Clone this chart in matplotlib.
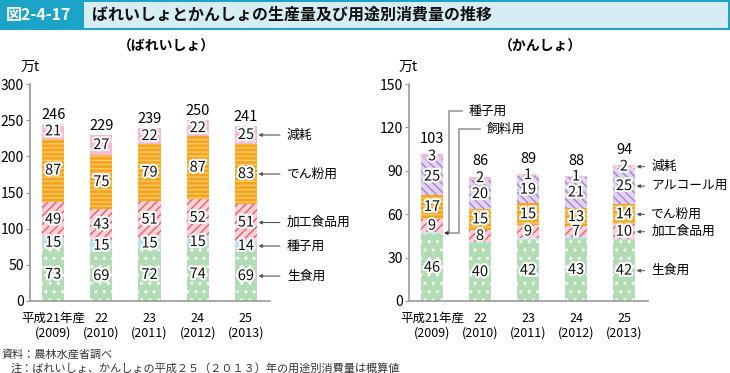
import matplotlib
matplotlib.use("Agg")
import matplotlib.pyplot as plt
import matplotlib.patheffects as pe
from matplotlib.patches import Rectangle
import numpy as np

plt.rcParams['font.family'] = ['Noto Sans CJK JP', 'DejaVu Sans']
plt.rcParams['hatch.linewidth'] = 1.0

# data (万t)
years = ['平成21年産\n(2009)', '22\n(2010)', '23\n(2011)', '24\n(2012)', '25\n(2013)']

# ばれいしょ
b_raw = [73, 69, 72, 74, 69]        # 生食用
b_seed = [15, 15, 15, 15, 14]       # 種子用
b_proc = [49, 43, 51, 52, 51]       # 加工食品用
b_starch = [87, 75, 79, 87, 83]     # でん粉用
b_loss = [21, 27, 22, 22, 25]       # 減耗
b_total = [246, 229, 239, 250, 241]

# かんしょ
k_raw = [46, 40, 42, 43, 42]        # 生食用
k_seed = [1, 0.6, 1, 1, 0.6]        # 種子用
k_feed = [0.5, 0.3, 0.5, 0.5, 0.3]  # 飼料用
k_proc = [9, 8, 9, 7, 10]           # 加工食品用
k_starch = [17, 15, 15, 13, 14]     # でん粉用
k_alc = [25, 20, 19, 21, 25]        # アルコール用
k_loss = [3, 2, 1, 1, 2]            # 減耗
k_total = [103, 86, 89, 88, 94]

W, H = 730, 373
fig = plt.figure(figsize=(W / 100, H / 100), dpi=100)

def fx(px):
    return px / W

def fy(py):
    return 1 - py / H

# title band
fig.patches.append(Rectangle((0, fy(30)), fx(730), 30 / H, transform=fig.transFigure,
                             facecolor='#1ca3c8', edgecolor='none'))
fig.patches.append(Rectangle((fx(84), fy(28)), fx(644), 26 / H, transform=fig.transFigure,
                             facecolor='#d6edf4', edgecolor='none'))
fig.text(fx(6), fy(15), '図2-4-17', color='white', fontsize=11.5, fontweight='bold', va='center')
fig.text(fx(92), fy(15), 'ばれいしょとかんしょの生産量及び用途別消費量の推移', color='#111111',
         fontsize=11.5, fontweight='bold', va='center')

styles = {
    'raw': dict(facecolor='#b2dcb4', edgecolor='white', hatch='..'),
    'seed': dict(facecolor='#b9e1ec', edgecolor='#b9e1ec', hatch=None),
    'feed': dict(facecolor='#d8ecf0', edgecolor='#d8ecf0', hatch=None),
    'proc': dict(facecolor='#fcd3d6', edgecolor='#ef5b6b', hatch='////'),
    'starch': dict(facecolor='#f5a41c', edgecolor='#fbcb6e', hatch='----'),
    'alc': dict(facecolor='#e2d1f0', edgecolor='#a783cc', hatch='\\\\\\\\'),
    'loss': dict(facecolor='#f5b9d4', edgecolor='#fbe0ec', hatch='..'),
}

stroke = [pe.withStroke(linewidth=3, foreground='white')]
x = np.arange(len(years))
bw = 0.46


def setup_axes(ax, ymax, step):
    ax.set_xlim(-0.48, 4.5)
    ax.set_ylim(0, ymax)
    ax.set_yticks(np.arange(0, ymax + 1, step))
    for s in ['top', 'right']:
        ax.spines[s].set_visible(False)
    for s in ['left', 'bottom']:
        ax.spines[s].set_color('#999999')
        ax.spines[s].set_linewidth(1.2)
    ax.tick_params(axis='y', length=3, color='#999999', labelsize=10, pad=1.5)
    ax.tick_params(axis='x', length=0, labelsize=9, pad=8)
    ax.set_xticks(x)
    ax.set_xticklabels(years, linespacing=1.15)


def stack(ax, layers, labelled):
    bottom = np.zeros(len(x))
    mids = {}
    for key, vals in layers:
        vals = np.array(vals, dtype=float)
        ax.bar(x, vals, bw, bottom=bottom, linewidth=0, **styles[key])
        mids[key] = bottom + vals / 2
        if key in labelled:
            for i, v in enumerate(vals):
                ax.text(x[i], bottom[i] + v / 2, '%d' % v, ha='center', va='center',
                        fontsize=10.5, color='#111111', path_effects=stroke)
        bottom = bottom + vals
    return bottom, mids


def totals(ax, top, labels, off):
    for i in range(len(x)):
        ax.annotate(str(labels[i]), xy=(x[i], top[i]), xytext=(0, off),
                    textcoords='offset points', ha='center', va='bottom', fontsize=10.5)


def arrow(ax, label, ytip, xtext):
    ax.annotate(label, xy=(4 + bw / 2 + 0.03, ytip), xytext=(xtext, ytip),
                textcoords='data', ha='left', va='center', fontsize=9.2,
                annotation_clip=False,
                arrowprops=dict(arrowstyle='-|>', color='#555555', lw=0.8,
                                mutation_scale=5, shrinkA=3, shrinkB=0))


# ---- ばれいしょ
ax1 = fig.add_axes([fx(30), fy(301), fx(240), 217 / H])
setup_axes(ax1, 300, 50)
layers = [('raw', b_raw), ('seed', b_seed), ('proc', b_proc), ('starch', b_starch), ('loss', b_loss)]
top, mids = stack(ax1, layers, ['raw', 'seed', 'proc', 'starch', 'loss'])
totals(ax1, top, b_total, 1.5)
names = {'loss': '減耗', 'starch': 'でん粉用', 'proc': '加工食品用', 'seed': '種子用', 'raw': '生食用'}
for k in ['loss', 'starch', 'proc', 'seed', 'raw']:
    arrow(ax1, names[k], mids[k][4], 4.85)
fig.text(fx(166), fy(47), '（ばれいしょ）', ha='center', va='center', fontsize=10, fontweight='bold')
fig.text(fx(21), fy(67), '万t', ha='left', va='center', fontsize=10)

# ---- かんしょ
ax2 = fig.add_axes([fx(409), fy(301), fx(239), 217 / H])
setup_axes(ax2, 150, 30)
layers = [('raw', k_raw), ('seed', k_seed), ('feed', k_feed), ('proc', k_proc),
          ('starch', k_starch), ('alc', k_alc), ('loss', k_loss)]
top, mids = stack(ax2, layers, ['raw', 'proc', 'starch', 'alc', 'loss'])
totals(ax2, top, k_total, 6)
names = {'loss': '減耗', 'alc': 'アルコール用', 'starch': 'でん粉用', 'proc': '加工食品用', 'raw': '生食用'}
for k in ['loss', 'alc', 'starch', 'proc', 'raw']:
    arrow(ax2, names[k], mids[k][4], 4.57)

# 種子用・飼料用 leader lines to the first bar
ytip = k_raw[0] + k_seed[0]
for lab, xv, yv, xend in [('種子用', 0.35, 131, 0.62), ('飼料用', 0.56, 119, 0.99)]:
    ax2.plot([xend, xv, xv, bw / 2 + 0.08], [yv, yv, ytip, ytip], color='#999999',
             lw=1.2, clip_on=False)
    ax2.text(xend + 0.14, yv, lab, ha='left', va='center', fontsize=9.2)
ax2.annotate('', xy=(bw / 2 + 0.02, ytip), xytext=(bw / 2 + 0.1, ytip),
             arrowprops=dict(arrowstyle='-|>', color='#333333', lw=0.8, mutation_scale=5,
                             shrinkA=0, shrinkB=0), annotation_clip=False)
fig.text(fx(540), fy(47), '（かんしょ）', ha='center', va='center', fontsize=10, fontweight='bold')
fig.text(fx(399), fy(67), '万t', ha='left', va='center', fontsize=10)

# notes
fig.text(fx(1), fy(354), '資料：農林水産省調べ', ha='left', va='center', fontsize=8, color='#333333')
fig.text(fx(11), fy(368), '注：ばれいしょ、かんしょの平成２５（２０１３）年の用途別消費量は概算値',
         ha='left', va='center', fontsize=8, color='#333333')

fig.savefig('out.png', dpi=100)
